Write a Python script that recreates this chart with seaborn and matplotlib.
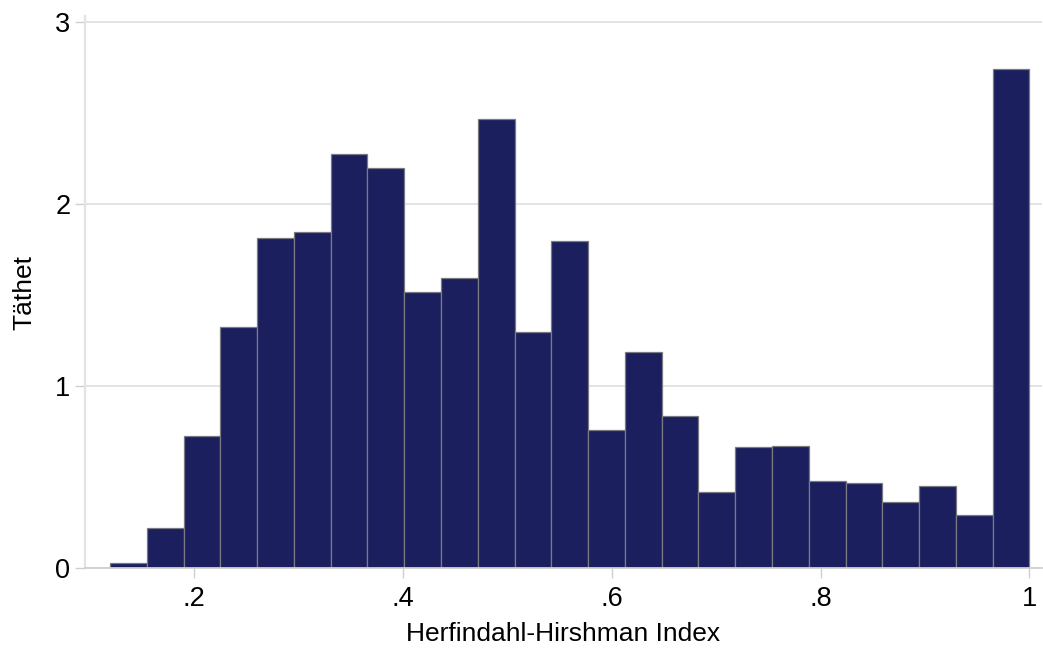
import numpy as np
import pandas as pd
import matplotlib
matplotlib.use("Agg")
import matplotlib.pyplot as plt
import seaborn as sns

# Histogram bins (Herfindahl-Hirshman Index) and density heights
bin_start = 0.1199
bin_end = 1.0
n_bins = 25
densities = [0.026, 0.22, 0.724, 1.322, 1.815, 1.846, 2.275, 2.196, 1.515, 1.592,
             2.467, 1.295, 1.795, 0.757, 1.187, 0.836, 0.415, 0.664, 0.668, 0.476,
             0.465, 0.363, 0.449, 0.29, 2.743]
x_ticks = [0.2, 0.4, 0.6, 0.8, 1.0]
x_ticklabels = [".2", ".4", ".6", ".8", "1"]
y_ticks = [0, 1, 2, 3]
x_label = "Herfindahl-Hirshman Index"
y_label = "Täthet"

edges = [float(e) for e in np.linspace(bin_start, bin_end, n_bins + 1)]
centers = [(edges[i] + edges[i + 1]) / 2 for i in range(n_bins)]
df = pd.DataFrame({"hhi": centers, "density": densities})

sns.set_theme(style="white")
plt.rcParams["font.family"] = ["Liberation Sans", "DejaVu Sans"]

fig = plt.figure(figsize=(10.43, 6.48), dpi=100)
ax = fig.add_axes([85 / 1043, 1 - 568 / 648, (1042 - 85) / 1043, (568 - 16) / 648])

sns.histplot(data=df, x="hhi", weights="density", bins=edges, stat="count",
             color="#1b1f5e", edgecolor="#7a7a82", linewidth=0.9, alpha=1.0, ax=ax)

ax.set_xlim(0.096, 1.012)
ax.set_ylim(0, 3.033)
ax.set_xticks(x_ticks)
ax.set_xticklabels(x_ticklabels)
ax.set_yticks(y_ticks)
ax.set_yticklabels([str(v) for v in y_ticks])

ax.yaxis.grid(True, color="#dcdcdc", linewidth=1.1)
ax.set_axisbelow(True)

for side in ["top", "right"]:
    ax.spines[side].set_visible(False)
ax.spines["left"].set_color("#e3e3e3")
ax.spines["left"].set_linewidth(1.6)
ax.spines["bottom"].set_color("#cfcfcf")
ax.spines["bottom"].set_linewidth(1.3)

ax.tick_params(axis="both", which="major", bottom=True, left=True, length=7,
               width=1.0, color="#cfcfcf", labelsize=19.5, labelcolor="black")
ax.tick_params(axis="y", pad=3.5)
ax.tick_params(axis="x", pad=6)

ax.set_xlabel(x_label, fontsize=19, color="black", labelpad=7)
ax.set_ylabel(y_label, fontsize=19, color="black", labelpad=13.5)

fig.savefig("out.png", dpi=100, facecolor="white")
